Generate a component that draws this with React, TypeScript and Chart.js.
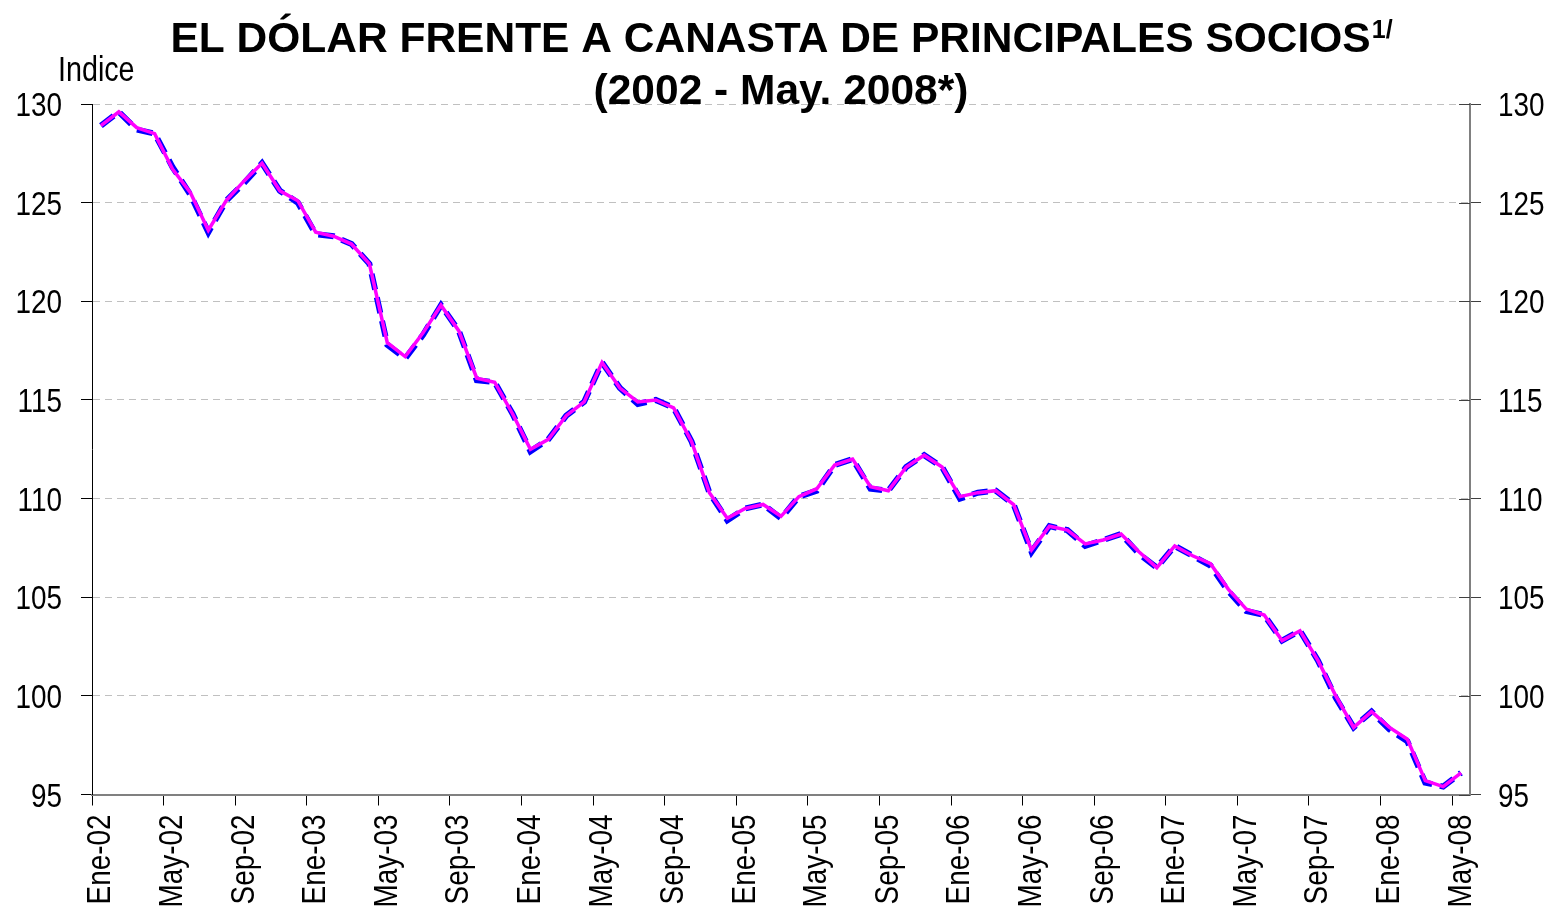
import React, { useEffect, useRef } from 'react';
import { Chart, registerables } from 'chart.js';

Chart.register(...registerables);

const MONTHS = ['Ene', 'Feb', 'Mar', 'Abr', 'May', 'Jun', 'Jul', 'Ago', 'Sep', 'Oct', 'Nov', 'Dic'];
const YEARS = ['02', '03', '04', '05', '06', '07', '08'];
const CATEGORIES = YEARS.flatMap((y) => MONTHS.map((m) => `${m}-${y}`)).slice(0, 77);

// Magenta (solid) series
const SOCIOS_A = [
  128.9, 129.6, 128.8, 128.5, 126.7, 125.5, 123.6, 125.1, 126.1, 127.0, 125.6, 125.1,
  123.5, 123.3, 122.9, 121.9, 117.9, 117.2, 118.4, 119.8, 118.5, 116.1, 115.9, 114.3,
  112.5, 113.0, 114.2, 114.9, 116.9, 115.6, 114.9, 115.0, 114.6, 112.9, 110.3, 109.0,
  109.5, 109.7, 109.1, 110.1, 110.5, 111.7, 112.0, 110.6, 110.4, 111.6, 112.2, 111.6,
  110.1, 110.3, 110.4, 109.7, 107.4, 108.6, 108.4, 107.7, 107.9, 108.2, 107.3, 106.5,
  107.6, 107.1, 106.7, 105.4, 104.4, 104.1, 102.8, 103.3, 101.8, 100.0, 98.4, 99.2,
  98.4, 97.8, 95.7, 95.4, 96.1,
];

// Blue (dashed) series
const SOCIOS_B = [
  128.9, 129.6, 128.7, 128.5, 126.8, 125.4, 123.5, 125.1, 126.0, 127.0, 125.6, 125.0,
  123.4, 123.3, 122.9, 121.9, 117.8, 117.1, 118.3, 119.8, 118.5, 116.0, 115.9, 114.3,
  112.4, 113.0, 114.2, 114.9, 116.9, 115.6, 114.8, 115.0, 114.6, 112.9, 110.3, 108.9,
  109.5, 109.7, 109.0, 110.1, 110.4, 111.7, 112.0, 110.5, 110.4, 111.6, 112.2, 111.6,
  110.0, 110.3, 110.4, 109.7, 107.3, 108.6, 108.4, 107.6, 107.9, 108.2, 107.2, 106.5,
  107.6, 107.1, 106.6, 105.3, 104.3, 104.1, 102.8, 103.3, 101.8, 99.9, 98.4, 99.2,
  98.3, 97.7, 95.6, 95.4, 96.1,
];

const Y_MIN = 95;
const Y_MAX = 130;
const Y_STEP = 5;
const X_LABEL_EVERY = 4;

const TITLE = 'EL DÓLAR FRENTE A CANASTA DE PRINCIPALES SOCIOS';
const TITLE_SUP = '1/';
const SUBTITLE = '(2002 - May. 2008*)';
const Y_LABEL = 'Indice';

const SANS = "'Liberation Sans', Arial, Helvetica, sans-serif";
const NARROW_SCALE = 0.82; // emulate a narrow (condensed) face
const AXIS_FONT = `34px ${SANS}`;
const AXIS_CAP = 34 * 0.716;

function narrowText(ctx: any, text: string, x: number, y: number, align: 'left' | 'right' | 'center') {
  ctx.save();
  ctx.translate(x, y);
  ctx.scale(NARROW_SCALE, 1);
  ctx.textAlign = align;
  ctx.textBaseline = 'alphabetic';
  ctx.fillText(text, 0, 0);
  ctx.restore();
}

const overlayPlugin = {
  id: 'overlay',
  afterDraw(chart: any) {
    const { ctx, chartArea, scales } = chart;
    ctx.save();
    // inner tick marks on right axis (cross ticks)
    const y2 = scales.y2;
    ctx.strokeStyle = '#404040';
    ctx.lineWidth = 1;
    y2.ticks.forEach((t: any) => {
      const y = Math.round(y2.getPixelForValue(t.value)) + 0.5;
      ctx.beginPath();
      ctx.moveTo(chartArea.right - 11, y);
      ctx.lineTo(chartArea.right, y);
      ctx.stroke();
    });

    ctx.fillStyle = '#000';
    // y tick labels, both sides
    ctx.font = AXIS_FONT;
    const yL = scales.y;
    yL.ticks.forEach((t: any) => {
      const y = yL.getPixelForValue(t.value) + AXIS_CAP / 2;
      narrowText(ctx, String(t.value), 62, y, 'right');
      narrowText(ctx, String(t.value), 1498, y, 'left');
    });

    // x tick labels (rotated)
    const xs = scales.x;
    CATEGORIES.forEach((lab, i) => {
      if (i % X_LABEL_EVERY !== 0) return;
      const x = xs.getPixelForValue(i);
      ctx.save();
      ctx.translate(x + 9.5, chartArea.bottom + 20);
      ctx.rotate(-Math.PI / 2);
      ctx.scale(NARROW_SCALE, 1);
      ctx.textAlign = 'right';
      ctx.textBaseline = 'alphabetic';
      ctx.fillText(lab, 0, 0);
      ctx.restore();
    });

    // y axis caption
    ctx.font = `35px ${SANS}`;
    narrowText(ctx, Y_LABEL, 58, 81, 'left');

    // titles
    ctx.textBaseline = 'alphabetic';
    const titleFont = `bold 42.5px ${SANS}`;
    const supFont = `bold 25px ${SANS}`;
    ctx.font = titleFont;
    const w = ctx.measureText(TITLE).width;
    ctx.font = supFont;
    const ws = ctx.measureText(TITLE_SUP).width;
    const cx = (chartArea.left + chartArea.right) / 2;
    const x0 = cx - (w + ws) / 2;
    ctx.textAlign = 'left';
    ctx.font = titleFont;
    ctx.fillText(TITLE, x0, 52);
    ctx.font = supFont;
    ctx.fillText(TITLE_SUP, x0 + w + 1, 38);
    ctx.font = titleFont;
    ctx.textAlign = 'center';
    ctx.fillText(SUBTITLE, cx, 104);
    ctx.restore();
  },
};

export default function App() {
  const ref = useRef<HTMLCanvasElement | null>(null);

  useEffect(() => {
    if (!ref.current) return;
    const chart = new Chart(ref.current, {
      type: 'line',
      data: {
        labels: CATEGORIES,
        datasets: [
          {
            label: 'Socios (a)',
            data: SOCIOS_A,
            borderColor: '#FF00FF',
            borderWidth: 3.5,
            pointRadius: 0,
            tension: 0,
            fill: false,
            order: 0,
          },
          {
            label: 'Socios (b)',
            data: SOCIOS_B,
            borderColor: '#0000FF',
            borderWidth: 6,
            borderDash: [16, 8],
            pointRadius: 0,
            tension: 0,
            fill: false,
            order: 1,
          },
        ],
      },
      options: {
        responsive: false,
        animation: false,
        devicePixelRatio: 1,
        layout: { padding: { top: 104, left: 0, right: 0, bottom: 0 } },
        plugins: {
          legend: { display: false },
          title: { display: false },
          tooltip: { enabled: false },
        },
        scales: {
          x: {
            type: 'category',
            offset: true,
            grid: {
              offset: true,
              drawOnChartArea: false,
              tickLength: 11,
              tickWidth: 1,
              tickColor: (ctx: any) => (ctx.index % X_LABEL_EVERY === 0 ? '#000' : 'rgba(0,0,0,0)'),
            },
            border: { display: true, color: '#808080', width: 2 },
            ticks: { display: false, autoSkip: false },
            afterFit: (s: any) => {
              s.height = 117.5;
            },
          },
          y: {
            position: 'left',
            min: Y_MIN,
            max: Y_MAX,
            grid: {
              color: '#c0c0c0',
              lineWidth: 1,
              tickLength: 11,
              tickColor: '#000',
              tickWidth: 1,
            },
            border: { display: true, color: '#000', width: 1, dash: [7, 5] },
            ticks: { display: false, stepSize: Y_STEP },
            afterFit: (s: any) => {
              s.width = 92;
            },
          },
          y2: {
            position: 'right',
            min: Y_MIN,
            max: Y_MAX,
            grid: {
              drawOnChartArea: false,
              tickLength: 11,
              tickColor: '#404040',
              tickWidth: 1,
            },
            border: { display: true, color: '#808080', width: 2 },
            ticks: { display: false, stepSize: Y_STEP },
            afterFit: (s: any) => {
              s.width = 85;
            },
          },
        },
      },
      plugins: [overlayPlugin],
    });
    return () => chart.destroy();
  }, []);

  return (
    <div style={{ position: 'fixed', left: 0, top: 0, width: 1555, height: 912, background: '#fff' }}>
      <canvas ref={ref} width={1555} height={912} style={{ display: 'block' }} />
    </div>
  );
}
